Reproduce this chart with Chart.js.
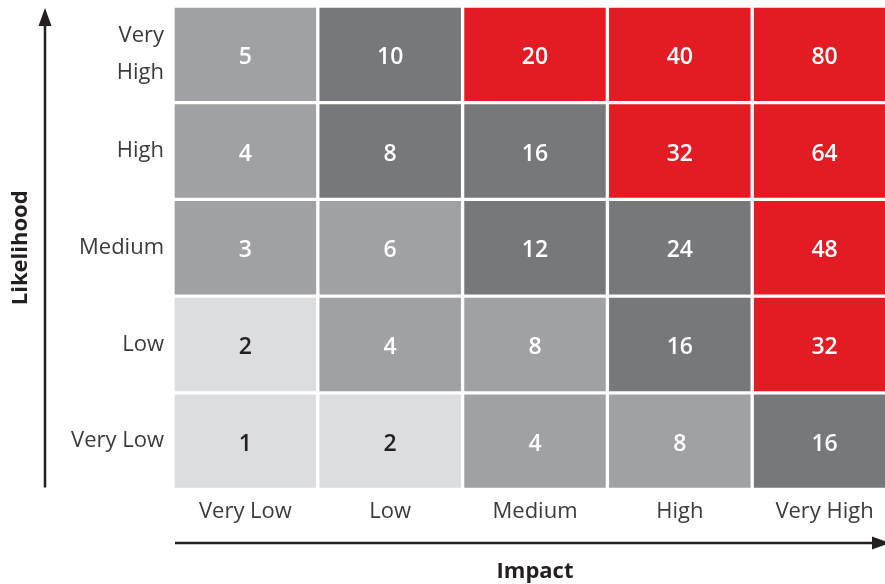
<!DOCTYPE html>
<html>
<head>
<meta charset="utf-8">
<script src="https://cdn.jsdelivr.net/npm/chart.js@4"></script>
<style>
    html, body { margin: 0; padding: 0; background: #fff; overflow: hidden; }
    #wrap { width: 900px; height: 584px; }
</style>
</head>
<body>
<div id="wrap"><canvas id="riskChart"></canvas></div>
<script>
    // impact categories (x) and likelihood categories (y, top to bottom)
    const impactLabels = ['Very Low', 'Low', 'Medium', 'High', 'Very High'];
    const likelihoodLabels = [['Very', 'High'], 'High', 'Medium', 'Low', 'Very Low'];

    // risk scores per likelihood row, bottom row first
    const scoresVeryLow = [1, 2, 4, 8, 16];
    const scoresLow = [2, 4, 8, 16, 32];
    const scoresMedium = [3, 6, 12, 24, 48];
    const scoresHigh = [4, 8, 16, 32, 64];
    const scoresVeryHigh = [5, 10, 20, 40, 80];

    // rating band of each cell: 0 light, 1 mid, 2 dark, 3 red
    const bandVeryLow = [0, 0, 1, 1, 2];
    const bandLow = [0, 1, 1, 2, 3];
    const bandMedium = [1, 1, 2, 2, 3];
    const bandHigh = [1, 2, 2, 3, 3];
    const bandVeryHigh = [1, 2, 3, 3, 3];

    const bandColors = ['#dcdddf', '#a0a1a5', '#77787c', '#e31b23'];
    const bandText = ['#231f20', '#ffffff', '#ffffff', '#ffffff'];

    const rows = [
        { scores: scoresVeryLow, bands: bandVeryLow },
        { scores: scoresLow, bands: bandLow },
        { scores: scoresMedium, bands: bandMedium },
        { scores: scoresHigh, bands: bandHigh },
        { scores: scoresVeryHigh, bands: bandVeryHigh }
    ];

    const fontFamily = '"Open Sans", Lato, sans-serif';
    const ink = '#231f20';

    const datasets = rows.map((row) => {
        return {
            data: row.scores.map(() => 1),
            scores: row.scores,
            bands: row.bands,
            backgroundColor: row.bands.map((b) => bandColors[b]),
            borderColor: '#ffffff',
            borderWidth: 2,
            borderSkipped: false,
            barPercentage: 1,
            categoryPercentage: 1
        };
    });

    const cellLabels = {
        id: 'cellLabels',
        afterDatasetsDraw(chart) {
            const ctx = chart.ctx;
            ctx.save();
            ctx.font = '600 23px ' + fontFamily;
            ctx.textAlign = 'center';
            ctx.textBaseline = 'middle';
            chart.data.datasets.forEach((ds, di) => {
                chart.getDatasetMeta(di).data.forEach((bar, i) => {
                    ctx.fillStyle = bandText[ds.bands[i]];
                    ctx.fillText(String(ds.scores[i]), bar.x, (bar.y + bar.base) / 2 + 3);
                });
            });
            ctx.restore();
        }
    };

    const axisArrows = {
        id: 'axisArrows',
        afterDraw(chart) {
            const ctx = chart.ctx;
            const area = chart.chartArea;
            ctx.save();
            ctx.strokeStyle = ink;
            ctx.fillStyle = ink;
            ctx.lineWidth = 2.5;

            // vertical arrow
            const ax = 45;
            ctx.beginPath();
            ctx.moveTo(ax, area.bottom - 2);
            ctx.lineTo(ax, 22);
            ctx.stroke();
            ctx.beginPath();
            ctx.moveTo(ax, 8);
            ctx.lineTo(ax - 6.5, 26);
            ctx.lineTo(ax + 6.5, 26);
            ctx.closePath();
            ctx.fill();

            // horizontal arrow
            const ay = 543;
            ctx.beginPath();
            ctx.moveTo(area.left + 2, ay);
            ctx.lineTo(874, ay);
            ctx.stroke();
            ctx.beginPath();
            ctx.moveTo(890, ay);
            ctx.lineTo(872, ay - 6.5);
            ctx.lineTo(872, ay + 6.5);
            ctx.closePath();
            ctx.fill();

            // axis titles
            ctx.font = 'bold 22px ' + fontFamily;
            ctx.textAlign = 'center';
            ctx.textBaseline = 'middle';
            ctx.fillText('Impact', (area.left + area.right) / 2, 572);
            ctx.translate(21, (area.top + area.bottom) / 2);
            ctx.rotate(-Math.PI / 2);
            ctx.fillText('Likelihood', 0, 0);
            ctx.restore();
        }
    };

    // drop the extra room Chart.js reserves for the outer tick labels
    function noEdgePadding(scale) {
        scale.paddingTop = 0;
        scale.paddingBottom = 0;
        scale.paddingLeft = 0;
        scale.paddingRight = 0;
    }

    new Chart(document.getElementById('riskChart'), {
        type: 'bar',
        data: {
            labels: impactLabels,
            datasets: datasets
        },
        options: {
            responsive: true,
            maintainAspectRatio: false,
            animation: false,
            layout: { padding: { top: 6, right: 3, left: 0, bottom: 0 } },
            plugins: {
                legend: { display: false },
                tooltip: { enabled: false }
            },
            scales: {
                x: {
                    stacked: true,
                    grid: { display: false, drawTicks: false },
                    border: { display: false },
                    ticks: {
                        font: { family: fontFamily, size: 22, lineHeight: 1.2 },
                        color: '#3c3c3c',
                        padding: 9
                    },
                    afterFit: (scale) => {
                        scale.height = 94.5;
                        noEdgePadding(scale);
                    }
                },
                y: {
                    stacked: true,
                    display: false,
                    min: 0,
                    max: 5
                },
                yLabels: {
                    type: 'category',
                    position: 'left',
                    labels: likelihoodLabels,
                    offset: true,
                    grid: { display: false, drawTicks: false },
                    border: { display: false },
                    ticks: {
                        font: { family: fontFamily, size: 22, lineHeight: 1.68 },
                        color: '#3c3c3c',
                        padding: 9
                    },
                    afterFit: (scale) => {
                        scale.width = 173;
                        noEdgePadding(scale);
                    }
                }
            }
        },
        plugins: [cellLabels, axisArrows]
    });
</script>
</body>
</html>
